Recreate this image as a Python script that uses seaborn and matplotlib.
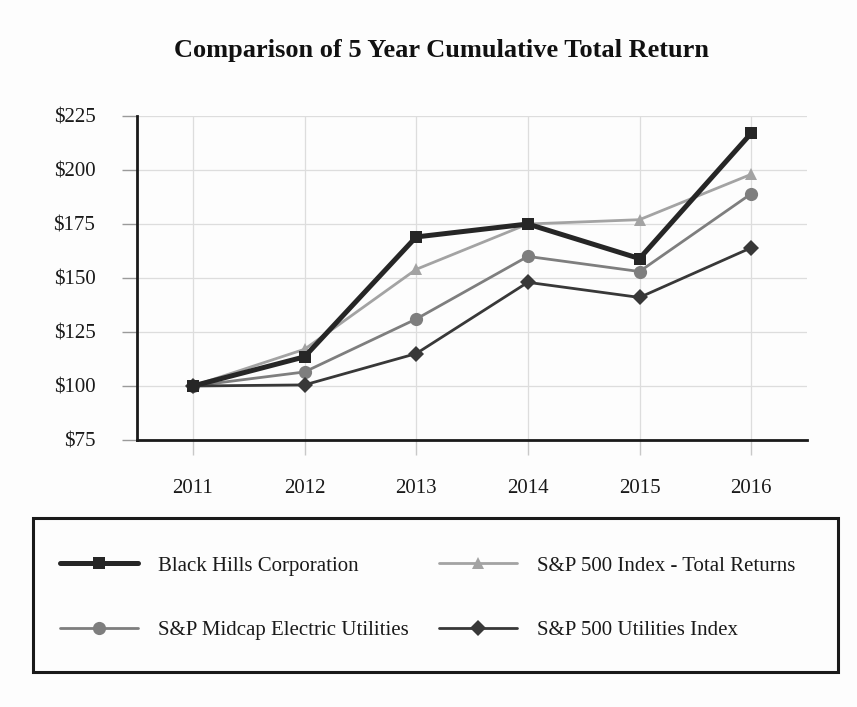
import matplotlib
matplotlib.use("Agg")
import matplotlib.pyplot as plt
import seaborn as sns
import pandas as pd
from matplotlib.lines import Line2D
from matplotlib.patches import Rectangle

years = [2011, 2012, 2013, 2014, 2015, 2016]
black_hills = [100, 113.5, 169, 175, 159, 217]
sp500_total = [100, 117, 154, 175, 177, 198]
midcap_elec = [100, 106.5, 131, 160, 153, 189]
sp500_util = [100, 100.5, 115, 148, 141, 164]
series_names = ["Black Hills Corporation", "S&P 500 Index - Total Returns",
                "S&P Midcap Electric Utilities", "S&P 500 Utilities Index"]
yticks = [75, 100, 125, 150, 175, 200, 225]

sns.set_theme(style="white")
plt.rcParams['font.family'] = ['Liberation Serif', 'DejaVu Serif']

styles = {
    "S&P 500 Index - Total Returns": dict(color="#a3a3a3", lw=2.0, marker="^", ms=9),
    "S&P Midcap Electric Utilities": dict(color="#7e7e7e", lw=2.0, marker="o", ms=9.5),
    "S&P 500 Utilities Index": dict(color="#383838", lw=2.0, marker="D", ms=8),
    "Black Hills Corporation": dict(color="#262626", lw=3.6, marker="s", ms=9),
}
values = {
    "Black Hills Corporation": black_hills,
    "S&P 500 Index - Total Returns": sp500_total,
    "S&P Midcap Electric Utilities": midcap_elec,
    "S&P 500 Utilities Index": sp500_util,
}

fig = plt.figure(figsize=(8.57, 7.07), dpi=100, facecolor="#fdfdfd")
ax = fig.add_axes([137/857, 1-440/707, (807-137)/857, (440-116)/707])
ax.set_facecolor("#fdfdfd")

order = ["S&P 500 Index - Total Returns", "S&P Midcap Electric Utilities",
         "S&P 500 Utilities Index", "Black Hills Corporation"]
for i, name in enumerate(order):
    st = styles[name]
    df = pd.DataFrame({"year": years, "value": values[name]})
    sns.lineplot(data=df, x="year", y="value", ax=ax, color=st["color"],
                 linewidth=st["lw"], marker=st["marker"], markersize=st["ms"],
                 markeredgewidth=0, markerfacecolor=st["color"], zorder=3+i)

ax.set_xlim(2010.5, 2016.5)
ax.set_ylim(75, 225)
ax.set_xticks(years)
ax.set_xticklabels([str(y) for y in years])
ax.set_yticks(yticks)
ax.set_yticklabels([f"${v}" for v in yticks])
ax.set_xlabel("")
ax.set_ylabel("")
ax.grid(True, color="#dddddd", linewidth=0.9)
ax.set_axisbelow(True)
for s in ["top", "right"]:
    ax.spines[s].set_visible(False)
for s in ["left", "bottom"]:
    ax.spines[s].set_color("#1a1a1a")
    ax.spines[s].set_linewidth(2)
ax.tick_params(axis="x", length=11, width=1, color="#c8c8c8", pad=17,
               labelsize=15, labelcolor="#1a1a1a", bottom=True)
ax.tick_params(axis="y", length=11, width=1, color="#9a9a9a", pad=19,
               labelsize=15, labelcolor="#1a1a1a", left=True)

fig.text(441/857, 1-50/707, "Comparison of 5 Year Cumulative Total Return",
         ha="center", va="center", fontsize=19, fontweight="bold", color="#111111")

# legend box
fig.patches.append(Rectangle((33/857, 1-672/707), (838-33)/857, (672-518)/707,
                             transform=fig.transFigure, fill=False,
                             edgecolor="#1a1a1a", linewidth=2.2))

handles = {}
for name in series_names:
    st = styles[name]
    handles[name] = Line2D([0], [0], color=st["color"], lw=st["lw"], marker=st["marker"],
                           markersize=st["ms"], markeredgewidth=0)
leg_order = ["Black Hills Corporation", "S&P Midcap Electric Utilities",
             "S&P 500 Index - Total Returns", "S&P 500 Utilities Index"]
fig.legend([handles[n] for n in leg_order], leg_order, ncol=2, frameon=False,
           loc="center left", bbox_to_anchor=(60/857, 1-598/707),
           borderpad=0, borderaxespad=0, handlelength=3.75, handletextpad=0.95,
           columnspacing=1.45, labelspacing=2.14, prop={"size": 15},
           labelcolor="#1a1a1a")

fig.savefig("out.png", dpi=100, facecolor=fig.get_facecolor())
